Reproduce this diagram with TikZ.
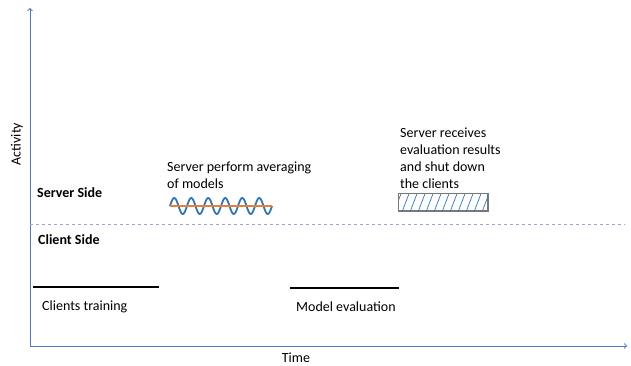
\documentclass[tikz,border=0pt]{standalone}
\usepackage{fontspec}
\setmainfont{Carlito}
\usepackage{tikz}
\usetikzlibrary{positioning,arrows}

\definecolor{axisblue}{RGB}{79,120,190}
\definecolor{waveblue}{RGB}{46,117,182}
\definecolor{waveorange}{RGB}{237,125,49}
\definecolor{dashgray}{RGB}{150,170,200}
\definecolor{boxgray}{RGB}{120,120,120}

\begin{document}
\begin{tikzpicture}[
	x=1pt,y=-1pt,
	axis/.style={
		draw=axisblue,
		line width=1pt,
		-to
	},
	lbl/.style={
		font=\fontsize{14}{17}\selectfont,
		inner sep=0pt,
		anchor=base west,
		align=left
	},
	side/.style={
		lbl,
		font=\fontsize{14}{17}\selectfont\bfseries
	},
	task/.style={
		draw=black,
		line width=2pt
	}
	]
	
	\useasboundingbox (0,0) rectangle (631,365);
	
	% axes
	\coordinate (origin) at (30,346);
	\coordinate (ytop) at (30,8);
	\coordinate (xend) at (627,346);
	\draw[axis] (origin) -- (ytop);
	\draw[axis] (origin) -- (xend);
	
	\node[lbl, rotate=90, anchor=center] 
	(act) at (17,144) {Activity};
	\node[lbl, anchor=base] 
	(time) at (296,362) {Time};
	
	% border between server and client
	\coordinate (split1) at (30,224);
	\coordinate (split2) at (625,224);
	\draw[dashgray, dashed, line width=0.8pt] (split1) -- (split2);
	
	\node[side] (server) at (37,197) {Server Side};
	\node[side] (client) at (38,244) {Client Side};
	
	% client tasks
	\coordinate (tr1) at (33,287);
	\coordinate (tr2) at (159,287);
	\draw[task] (tr1) -- (tr2);
	\node[lbl] (train) at (42,310) {Clients training};
	
	\coordinate (ev1) at (290,288);
	\coordinate (ev2) at (399,288);
	\draw[task] (ev1) -- (ev2);
	\node[lbl] (evalu) at (296,311) {Model evaluation};
	
	% averaging on the server
	\node[lbl, anchor=north west] (avg) at (167,162) {Server perform averaging\\of models};
	\draw[waveblue, line width=1.8pt, domain=0:102, samples=200, smooth] 
	plot ({170+\x}, {206 - 8*sin(\x*21.176)});
	\coordinate (or1) at (170,206);
	\coordinate (or2) at (272,206);
	\draw[waveorange, line width=2pt] (or1) -- (or2);
	
	% shut down of the clients
	\node[lbl, anchor=north west] (shut) at (400,128) {Server receives\\evaluation results\\and shut down\\the clients};
	\node[draw=boxgray, line width=1pt, minimum width=89pt, minimum height=17pt, 
	inner sep=0pt, anchor=north west] (hatch) at (398,193) {};
	\begin{scope}
		\clip (hatch.south west) rectangle (hatch.north east);
		\foreach \i in {0,...,12}
		\draw[waveblue, line width=0.7pt] (394+8*\i,212) -- (402+8*\i,191);
	\end{scope}
	\draw[boxgray, line width=1pt] (hatch.south west) rectangle (hatch.north east);
	
\end{tikzpicture}
\end{document}
